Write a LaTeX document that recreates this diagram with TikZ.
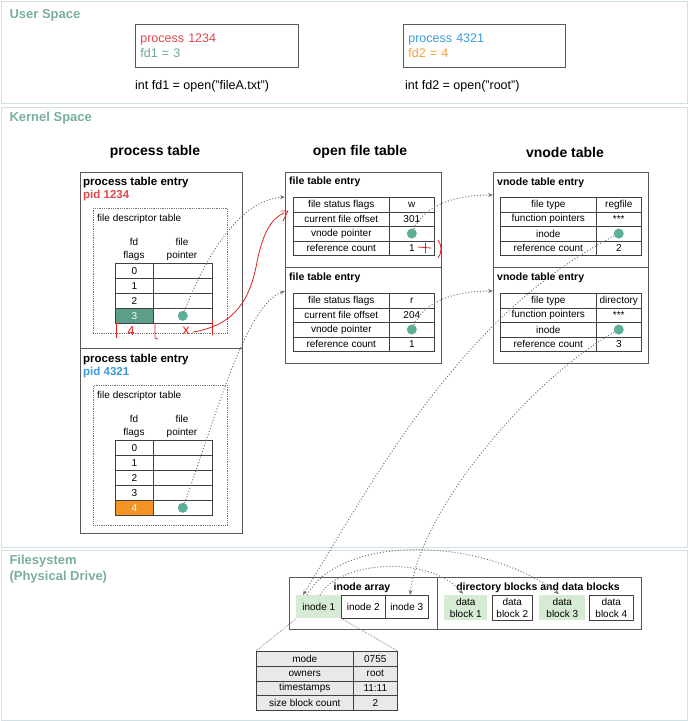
\documentclass[tikz,border=0pt]{standalone}
\usepackage{fontspec}
\setmainfont{Liberation Sans}
\usetikzlibrary{arrows.meta}
\definecolor{pidred}{HTML}{E0474C}
\definecolor{pidblue}{HTML}{3C9AD6}
\definecolor{fdteal}{HTML}{6BA596}
\definecolor{fdorange}{HTML}{F2A03D}
\definecolor{secteal}{HTML}{7AAE9F}
\definecolor{secline}{HTML}{CFE1E5}
\definecolor{rowteal}{HTML}{5B9E89}
\definecolor{roworange}{HTML}{F39424}
\definecolor{dotteal}{HTML}{5FAE9A}
\definecolor{blockgreen}{HTML}{D6EBD3}
\definecolor{modegray}{HTML}{E9E9E9}
\definecolor{penred}{HTML}{E3201E}
\tikzstyle{cell} = [draw=black!75, line width=0.6pt, inner sep=0pt, anchor=north west,
  font=\fontsize{10}{11}\selectfont]
\tikzstyle{frame} = [draw=black!65, line width=0.7pt, inner sep=0pt, anchor=north west]
\tikzstyle{ptr} = [draw=black!55, dotted, line width=1pt, -{Stealth[length=5pt,width=4pt]}]

\begin{document}
\begin{tikzpicture}[x=1pt, y=-1pt]
  % Define styles
  \tikzstyle{section} = [anchor=west, text=secteal, font=\fontsize{13}{15.5}\selectfont\bfseries, align=left]
  \tikzstyle{heading} = [font=\fontsize{14}{16}\selectfont\bfseries]
  \tikzstyle{entry} = [anchor=west, inner sep=0pt, font=\fontsize{11.5}{13}\selectfont\bfseries]
  \tikzstyle{small} = [anchor=west, inner sep=0pt, font=\fontsize{10}{12}\selectfont]
  \tikzstyle{fdbox} = [draw=black!55, densely dotted, line width=0.8pt, inner sep=0pt, anchor=north west]
  \tikzstyle{dot} = [circle, fill=dotteal, minimum size=10pt, inner sep=0pt]
  \tikzstyle{zoomline} = [draw=black!45, densely dotted, line width=0.8pt]
  \tikzstyle{scribble} = [draw=penred, line width=0.8pt, line cap=round, line join=round]
  \useasboundingbox (0,0) rectangle (688,721);

  % Sections
  \draw[secline, line width=1pt] (1,1) rectangle (687,103);
  \draw[secline, line width=1pt] (1,107) rectangle (687,547);
  \draw[secline, line width=1pt] (1,550) rectangle (687,720);
  \node[section] (userlab) at (6,15) {User Space};
  \node[section] (kernlab) at (6,118) {Kernel Space};
  \node[section] (fslab) at (6,569) {Filesystem\\(Physical Drive)};

  % User space processes
  \node[frame, minimum width=163pt, minimum height=43pt, text width=153pt, inner xsep=5pt,
    align=left, font=\fontsize{12.5}{15}\selectfont] (procA) at (135,24)
    {\textcolor{pidred}{process 1234}\\\textcolor{fdteal}{fd1 = 3}};
  \node[frame, minimum width=162pt, minimum height=43pt, text width=152pt, inner xsep=5pt,
    align=left, font=\fontsize{12.5}{15}\selectfont] (procB) at (403,24)
    {\textcolor{pidblue}{process 4321}\\\textcolor{fdorange}{fd2 = 4}};
  \node[anchor=west, inner sep=0pt, font=\fontsize{12.5}{15}\selectfont] (callA) at (135,86) {int fd1 = open("fileA.txt")};
  \node[anchor=west, inner sep=0pt, font=\fontsize{12.5}{15}\selectfont] (callB) at (405,86) {int fd2 = open("root")};

  % Table headings
  \node[heading] (pthead) at (155,152) {process table};
  \node[heading] (fthead) at (360,152) {open file table};
  \node[heading] (vthead) at (565,152) {vnode table};

  % Process table
  \node[frame, minimum width=162pt, minimum height=176pt] (ptA) at (80,172) {};
  \node[frame, minimum width=162pt, minimum height=185pt] (ptB) at (80,348) {};
  \node[entry] (ptAtitle) at (83,183) {process table entry};
  \node[entry, text=pidred] (ptApid) at (83,196) {pid 1234};
  \node[entry] (ptBtitle) at (83,360) {process table entry};
  \node[entry, text=pidblue] (ptBpid) at (83,373) {pid 4321};
  \node[fdbox, minimum width=134pt, minimum height=125pt] (fdtA) at (93,208) {};
  \node[fdbox, minimum width=134pt, minimum height=140pt] (fdtB) at (93,385) {};
  \node[small] (fdtAlab) at (97,219) {file descriptor table};
  \node[small] (fdtBlab) at (97,396) {file descriptor table};
  \node[align=center, font=\fontsize{10}{13}\selectfont] (fdAhead) at (134,249) {fd\\flags};
  \node[align=center, font=\fontsize{10}{13}\selectfont] (ptAhead) at (182,249) {file\\pointer};
  \node[align=center, font=\fontsize{10}{13}\selectfont] (fdBhead) at (134,426) {fd\\flags};
  \node[align=center, font=\fontsize{10}{13}\selectfont] (ptBhead) at (182,426) {file\\pointer};
  \foreach \i in {0,...,2} {
    \node[cell, minimum width=38pt, minimum height=15pt] (fdA\i) at (115,{263+15*\i}) {\i};
    \node[cell, minimum width=59pt, minimum height=15pt] (ptA\i) at (153,{263+15*\i}) {};
  }
  \node[cell, minimum width=38pt, minimum height=15pt, fill=rowteal, text=white] (fdA3) at (115,308) {3};
  \node[cell, minimum width=59pt, minimum height=15pt] (ptA3) at (153,308) {};
  \foreach \i in {0,...,3} {
    \node[cell, minimum width=38pt, minimum height=15pt] (fdB\i) at (115,{440+15*\i}) {\i};
    \node[cell, minimum width=59pt, minimum height=15pt] (ptB\i) at (153,{440+15*\i}) {};
  }
  \node[cell, minimum width=38pt, minimum height=15pt, fill=roworange, text=white] (fdB4) at (115,500) {4};
  \node[cell, minimum width=59pt, minimum height=15pt] (ptB4) at (153,500) {};
  \node[dot] (fdAdot) at (ptA3.center) {};
  \node[dot] (fdBdot) at (ptB4.center) {};

  % Open file table
  \node[frame, minimum width=156pt, minimum height=95pt] (ftA) at (285,172) {};
  \node[frame, minimum width=156pt, minimum height=96pt] (ftB) at (285,267) {};
  \node[entry, font=\fontsize{10.5}{12}\selectfont\bfseries] (ftAtitle) at (289,182) {file table entry};
  \node[entry, font=\fontsize{10.5}{12}\selectfont\bfseries] (ftBtitle) at (289,278) {file table entry};
  \foreach \lab/\va/\vb [count=\i] in {file status flags/w/r, current file offset/301/204,
      vnode pointer//, reference count/1/1} {
    \node[cell, minimum width=96pt, minimum height=14.5pt] (ftAl\i) at (293,{197+14.5*(\i-1)}) {\lab};
    \node[cell, minimum width=45pt, minimum height=14.5pt] (ftAr\i) at (389,{197+14.5*(\i-1)}) {\va};
    \node[cell, minimum width=96pt, minimum height=14.5pt] (ftBl\i) at (293,{293+14.5*(\i-1)}) {\lab};
    \node[cell, minimum width=45pt, minimum height=14.5pt] (ftBr\i) at (389,{293+14.5*(\i-1)}) {\vb};
  }
  \node[dot] (ftAdot) at (ftAr3.center) {};
  \node[dot] (ftBdot) at (ftBr3.center) {};
  \coordinate (ftAin) at (285,197);
  \coordinate (ftBin) at (285,291);

  % Vnode table
  \node[frame, minimum width=155pt, minimum height=95pt] (vtA) at (493,172) {};
  \node[frame, minimum width=155pt, minimum height=96pt] (vtB) at (493,267) {};
  \node[entry, font=\fontsize{10.5}{12}\selectfont\bfseries] (vtAtitle) at (497,183) {vnode table entry};
  \node[entry, font=\fontsize{10.5}{12}\selectfont\bfseries] (vtBtitle) at (497,278) {vnode table entry};
  \foreach \lab/\va/\vb [count=\i] in {file type/regfile/directory, function pointers/***/***,
      inode//, reference count/2/3} {
    \node[cell, minimum width=96pt, minimum height=14.5pt] (vtAl\i) at (500,{197+14.5*(\i-1)}) {\lab};
    \node[cell, minimum width=45pt, minimum height=14.5pt] (vtAr\i) at (596,{197+14.5*(\i-1)}) {\va};
    \node[cell, minimum width=96pt, minimum height=14.5pt] (vtBl\i) at (500,{293+14.5*(\i-1)}) {\lab};
    \node[cell, minimum width=45pt, minimum height=14.5pt] (vtBr\i) at (596,{293+14.5*(\i-1)}) {\vb};
  }
  \node[dot] (vtAdot) at (vtAr3.center) {};
  \node[dot] (vtBdot) at (vtBr3.center) {};
  \coordinate (vtAin) at (493,195);
  \coordinate (vtBin) at (493,291);

  % Filesystem
  \node[frame, minimum width=148pt, minimum height=52pt] (inodearea) at (289,577) {};
  \node[frame, minimum width=204pt, minimum height=52pt] (dataarea) at (437,577) {};
  \node[font=\fontsize{10.5}{12}\selectfont\bfseries] (inodelab) at (362,588) {inode array};
  \node[font=\fontsize{10.5}{12}\selectfont\bfseries] (datalab) at (538,588) {directory blocks and data blocks};
  \node[cell, draw=none, fill=blockgreen, minimum width=45pt, minimum height=23pt] (inode1) at (296,595) {inode 1};
  \node[cell, minimum width=44pt, minimum height=23pt] (inode2) at (341,595) {inode 2};
  \node[cell, minimum width=43pt, minimum height=23pt] (inode3) at (385,595) {inode 3};
  \node[cell, draw=none, fill=blockgreen, minimum width=43pt, minimum height=25pt, align=center,
    font=\fontsize{10}{11.5}\selectfont] (block1) at (444,595) {data\\block 1};
  \node[cell, minimum width=40pt, minimum height=25pt, align=center,
    font=\fontsize{10}{11.5}\selectfont] (block2) at (492,595) {data\\block 2};
  \node[cell, draw=none, fill=blockgreen, minimum width=46pt, minimum height=25pt, align=center,
    font=\fontsize{10}{11.5}\selectfont] (block3) at (539,595) {data\\block 3};
  \node[cell, minimum width=44pt, minimum height=25pt, align=center,
    font=\fontsize{10}{11.5}\selectfont] (block4) at (589,595) {data\\block 4};
  \coordinate (inodeAin) at (303,595);
  \coordinate (inodeBin) at (410,595);
  \coordinate (arcAout) at (307,595);
  \coordinate (arcBout) at (320,595);
  \coordinate (block1in) at (463,594);
  \coordinate (block3in) at (559,594);

  % Inode detail
  \foreach \lab/\val [count=\i] in {mode/0755, owners/root, timestamps/11:11, size block count/2} {
    \node[cell, fill=modegray, minimum width=97pt, minimum height=14.75pt] (modeL\i) at (256,{651+14.75*(\i-1)}) {\lab};
    \node[cell, fill=modegray, minimum width=44pt, minimum height=14.75pt] (modeR\i) at (353,{651+14.75*(\i-1)}) {\val};
  }
  \draw[zoomline] (inode1.south west) -- (modeL1.north west);
  \draw[zoomline] (inode1.south east) -- (modeR1.north east);

  % Draw pointers
  \draw[ptr] (fdAdot) .. controls (200,270) and (235,200) .. (ftAin);
  \draw[ptr] (fdBdot) .. controls (215,420) and (245,305) .. (ftBin);
  \draw[ptr] (ftAdot) .. controls (425,205) and (455,195) .. (vtAin);
  \draw[ptr] (ftBdot) .. controls (425,301) and (455,291) .. (vtBin);
  \draw[ptr] (vtAdot) .. controls (460,315) and (373,481) .. (inodeAin);
  \draw[ptr] (vtBdot) .. controls (530,380) and (420,510) .. (inodeBin);
  \draw[ptr] (arcAout) .. controls (340,535) and (480,535) .. (block3in);
  \draw[ptr] (arcBout) .. controls (340,560) and (430,555) .. (block1in);

  % Red pen marks
  \draw[scribble] (119,323) -- (116,323) -- (116,338);
  \node[text=penred, font=\fontsize{13}{13}\selectfont] (penfour) at (131,331) {4};
  \draw[scribble] (155,323) -- (155,338) -- (158,339);
  \node[text=penred, font=\fontsize{14}{14}\selectfont] (penx) at (186,331) {x};
  \draw[scribble] (212,320) -- (212,335);
  \draw[scribble] (193,332) .. controls (235,325) and (250,300) .. (257,262)
    .. controls (263,232) and (272,218) .. (284,213);
  \draw[scribble] (281,211) -- (288,211) -- (283,221);
  \draw[scribble] (418,247) -- (431,248);
  \draw[scribble] (425,243) -- (425,253);
  \draw[scribble] (438,240) .. controls (442,245) and (442,253) .. (438,258);
\end{tikzpicture}
\end{document}
